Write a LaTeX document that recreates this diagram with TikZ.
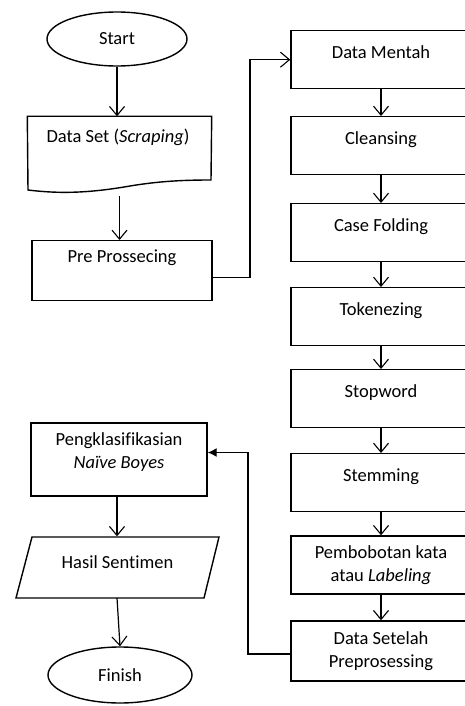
\documentclass[tikz,border=0pt]{standalone}
\usepackage{fontspec}
\setmainfont{Carlito}[Ligatures=NoCommon]
\usetikzlibrary{arrows.meta,shapes.geometric,positioning}
\begin{document}
\begin{tikzpicture}[x=1pt,y=-1pt,line width=1.4pt,
  font=\fontsize{18.5}{23.5}\selectfont,
  box/.style={draw,rectangle,inner sep=0pt,minimum width=180pt,text height=28pt,text depth=30pt},
  box2/.style={draw,rectangle,inner sep=0pt,minimum width=180pt,align=center},
  term/.style={draw,ellipse,inner sep=0pt},
  arr/.style={draw,line width=1.2pt,-{Straight Barb[length=9pt,width=15pt,line width=1.1pt]}},
  arrf/.style={draw,line width=1.2pt,-{Latex[length=9pt,width=9pt]}}]
\useasboundingbox (0,0) rectangle (465,706);
\clip (0,0) rectangle (465,706);
% left column
\node[term,minimum width=140pt,minimum height=54pt] (st) at (117,39) {Start};
\node[inner sep=0pt,minimum width=183pt,minimum height=78pt] (ds) at (119.5,156) {};
\draw (ds.north west) -- (ds.north east) -- (211,180)
  .. controls (185,180) and (160,181) .. (130,186)
  .. controls (90,193) and (60,194) .. (28,190) -- cycle;
\node at (118,137) {Data Set (\textit{Scraping})};
\node[draw,rectangle,inner sep=0pt,minimum width=180pt,text height=22pt,text depth=38pt] (pre) at (122,240) [anchor=north] {Pre Prossecing};
\node[box2,minimum width=176pt,minimum height=73pt] (pk) at (119,459.5) {};
\node[align=center] at (119,452) {Pengklasifikasian\\\textit{Naïve Boyes}};
\node[inner sep=0pt,minimum width=203pt,minimum height=61pt] (hs) at (117.5,567.5) {};
\draw (32,537) -- (219,537) -- (204,598) -- (16,598) -- cycle;
\node at (117.5,562) {Hasil Sentimen};
\node[term,minimum width=144pt,minimum height=56pt] (fn) at (120,675) {Finish};
% right column
\node[box] (dm) at (381,30) [anchor=north] {Data Mentah};
\node[box] (cl) at (381,116) [anchor=north] {Cleansing};
\node[box] (cf) at (381,203) [anchor=north] {Case Folding};
\node[box] (tk) at (381,287) [anchor=north] {Tokenezing};
\node[box] (sw) at (381,369) [anchor=north] {Stopword};
\node[box] (sm) at (381,453) [anchor=north] {Stemming};
\node[box2,minimum height=58pt] (pb) at (381,565) {Pembobotan kata\\atau \textit{Labeling}};
\node[box2,minimum height=60pt] (dsp) at (381,651) {Data Setelah\\Preprosessing};
% connectors
\coordinate (j1) at (250,160);
\coordinate (j2) at (248,550);
\draw[arr] (st.south) -- (st.south |- ds.north);
\draw[arr] (ds.south) -- (ds.south |- pre.north);
\draw[arr] ([yshift=-7pt]pre.east) -| (j1) |- (dm.west);
\draw[arr] (dm.south) -- (cl.north);
\draw[arr] (cl.south) -- (cf.north);
\draw[arr] (cf.south) -- (tk.north);
\draw[arr] (tk.south) -- (sw.north);
\draw[arr] (sw.south) -- (sm.north);
\draw[arr] (sm.south) -- (pb.north);
\draw[arr] (pb.south) -- (dsp.north);
\draw[arrf] ([yshift=-3pt]dsp.west) -| (j2) |- ([yshift=7pt]pk.east);
\draw[arr] ([xshift=-2pt]pk.south) -- ([xshift=-2pt]pk.south |- hs.north);
\draw[arr] (117,598) -- (fn.north);
\end{tikzpicture}
\end{document}
